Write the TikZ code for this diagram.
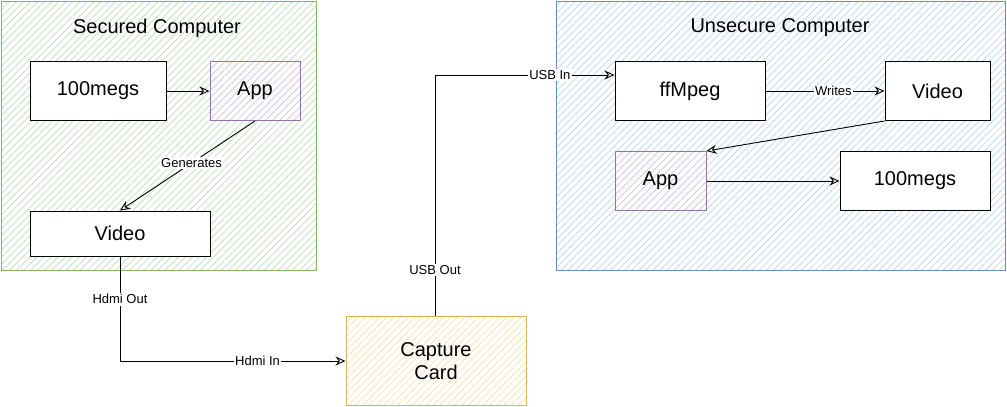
\documentclass[tikz,border=0pt]{standalone}
\usepackage{fontspec}
\setmainfont{Liberation Sans}
\usetikzlibrary{arrows.meta,patterns.meta}
\definecolor{gfill}{HTML}{BEDDBA}
\definecolor{gline}{HTML}{82B366}
\definecolor{bfill}{HTML}{BDD5F6}
\definecolor{bline}{HTML}{6C8EBF}
\definecolor{pfill}{HTML}{D3BFDB}
\definecolor{pline}{HTML}{9673A6}
\definecolor{yfill}{HTML}{F6E2AA}
\definecolor{yline}{HTML}{D6B656}
\tikzset{
  x=1pt, y=-1pt,
  grp/.style={draw, line width=1pt},
  box/.style={draw=black, line width=1pt, fill=white, font=\fontsize{20}{23}\selectfont, align=center},
  hbox/.style={box, fill=none, draw=#1line, preaction={fill=white}, preaction={pattern={Lines[angle=45,distance=5pt,line width=0.7pt]}, pattern color=#1fill}},
  hatch/.style={pattern={Lines[angle=45,distance=5pt,line width=0.7pt]}, pattern color=#1},
  ttl/.style={font=\fontsize{20}{23}\selectfont},
  lbl/.style={fill=white, font=\fontsize{13}{15}\selectfont, inner sep=1.5pt},
  conn/.style={draw, line width=0.9pt, -{Stealth[open,length=10pt,width=9pt,line width=0.9pt]}},
}
\begin{document}
\begin{tikzpicture}
\useasboundingbox (0,0) rectangle (1007,407);
% groups
\path[fill=white] (1,1) rectangle (316,270);
\path[hatch=gfill] (1,1) rectangle (316,270);
\draw[grp, draw=gline] (1,1) rectangle (316,270);
\path[fill=white] (556,1) rectangle (1005,270);
\path[hatch=bfill] (556,1) rectangle (1005,270);
\draw[grp, draw=bline] (556,1) rectangle (1005,270);
\node[ttl] (t1) at (157,28) {Secured Computer};
\node[ttl] (t2) at (780,28) {Unsecure Computer};
% nodes
\node[box, minimum width=136pt, minimum height=59pt] (megs1) at (98,91) {100megs};
\node[hbox=p, minimum width=90pt, minimum height=59pt] (app1) at (255,91) {App};
\node[box, minimum width=180pt, minimum height=45pt] (vid1) at (120,233.5) {Video};
\node[box, minimum width=150pt, minimum height=59pt] (ff) at (690,91) {ffMpeg};
\node[box, minimum width=105pt, minimum height=59pt] (vid2) at (937.5,91) {Video};
\node[hbox=p, minimum width=91pt, minimum height=59pt] (app2) at (660.5,181) {App};
\node[box, minimum width=150pt, minimum height=59pt] (megs2) at (915,181) {100megs};
\node[hbox=y, minimum width=180pt, minimum height=89pt] (cap) at (436,361) {Capture\\Card};
% connectors
\draw[conn] (megs1.east) -- (app1.west);
\draw[conn] (app1.south) -- node[lbl, pos=0.47] {Generates} (vid1.north);
\coordinate (c1) at (120,361);
\draw[conn] (vid1.south) -- node[lbl, pos=0.41] {Hdmi Out} (c1) -- node[lbl, pos=0.61] {Hdmi In} (cap.west);
\coordinate (c2) at (435,75);
\coordinate (c3) at (ff.west |- c2);
\draw[conn] (cap.north -| c2) -- node[lbl, pos=0.19] {USB Out} (c2) -- node[lbl, pos=0.64] {USB In} (c3);
\draw[conn] (ff.east) -- node[lbl, pos=0.57] {Writes} (vid2.west);
\draw[conn] (vid2.south west) -- (app2.north east);
\draw[conn] (app2.east) -- (megs2.west);
\end{tikzpicture}
\end{document}
